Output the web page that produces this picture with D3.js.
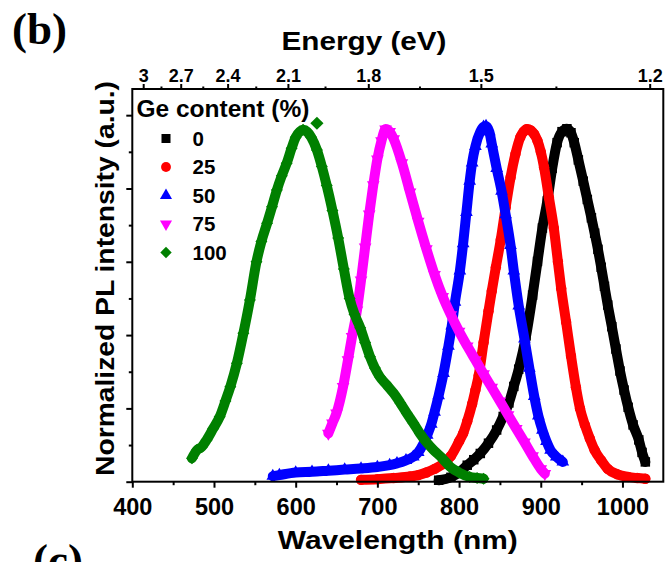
<!DOCTYPE html>
<html>
<head>
<meta charset="utf-8">
<script src="https://cdn.jsdelivr.net/npm/d3@7"></script>
<style>
  html, body { margin: 0; padding: 0; background: #ffffff; }
  svg { display: block; font-family: "Liberation Sans", Arial, sans-serif; font-weight: bold; }
</style>
</head>
<body>
<script>
// Photoluminescence spectra of the alloy series, normalized intensity vs wavelength.

const seriesLabels = ["0", "25", "50", "75", "100"];
const seriesColors = ["#000000", "#ff0000", "#0000ff", "#ff00ff", "#008000"];

// Ge 0 %
const ge0Wavelength = [775, 790, 800, 810, 818, 826, 836, 846, 854, 861, 867, 873, 882, 890, 896, 902, 908, 914, 920, 926, 932, 937, 941, 946, 952, 957, 962, 966, 970, 974, 978, 982, 987, 992, 997, 1002, 1007, 1013, 1020, 1024, 1028];
const ge0Intensity = [0.004, 0.012, 0.025, 0.045, 0.06, 0.077, 0.105, 0.141, 0.178, 0.215, 0.26, 0.307, 0.398, 0.509, 0.601, 0.692, 0.766, 0.855, 0.925, 0.955, 0.963, 0.952, 0.925, 0.878, 0.82, 0.77, 0.72, 0.678, 0.634, 0.585, 0.533, 0.482, 0.423, 0.362, 0.302, 0.25, 0.203, 0.155, 0.114, 0.08, 0.054];

// Ge 25 %
const ge25Wavelength = [680, 700, 720, 740, 750, 760, 770, 780, 790, 800, 805, 810, 816, 820, 824, 830, 836, 840, 845, 851, 857, 863, 869, 875, 879, 883, 888, 892, 896, 900, 904, 910, 916, 921, 925, 931, 937, 943, 948, 954, 960, 966, 974, 982, 994, 1007, 1018, 1028];
const ge25Intensity = [0.005, 0.007, 0.01, 0.014, 0.018, 0.025, 0.035, 0.048, 0.07, 0.11, 0.132, 0.165, 0.212, 0.25, 0.29, 0.38, 0.465, 0.52, 0.585, 0.66, 0.748, 0.83, 0.894, 0.94, 0.955, 0.962, 0.958, 0.948, 0.93, 0.9, 0.858, 0.775, 0.692, 0.6, 0.527, 0.436, 0.343, 0.258, 0.2, 0.155, 0.118, 0.086, 0.058, 0.035, 0.02, 0.013, 0.01, 0.008];

// Ge 50 %
const ge50Wavelength = [572, 580, 600, 620, 640, 660, 680, 700, 715, 724, 735, 744, 750, 756, 761, 766, 770, 775, 781, 787, 791, 795, 801, 805, 809, 813, 816, 820, 826, 830, 833, 837, 840, 846, 852, 857, 863, 867, 873, 880, 886, 892, 897, 902, 907, 912, 919, 927];
const ge50Intensity = [0.015, 0.018, 0.025, 0.027, 0.03, 0.033, 0.036, 0.04, 0.045, 0.05, 0.058, 0.068, 0.08, 0.102, 0.127, 0.157, 0.19, 0.235, 0.296, 0.37, 0.425, 0.49, 0.575, 0.65, 0.735, 0.82, 0.87, 0.915, 0.955, 0.968, 0.97, 0.955, 0.922, 0.855, 0.793, 0.729, 0.645, 0.575, 0.48, 0.39, 0.31, 0.233, 0.18, 0.141, 0.11, 0.086, 0.068, 0.054];

// Ge 75 %
const ge75Wavelength = [640, 645, 650, 658, 664, 669, 675, 680, 685, 690, 695, 700, 705, 710, 715, 720, 730, 740, 750, 760, 770, 780, 790, 800, 810, 820, 830, 840, 850, 860, 870, 880, 890, 900, 905];
const ge75Intensity = [0.132, 0.16, 0.187, 0.259, 0.332, 0.396, 0.468, 0.55, 0.64, 0.73, 0.81, 0.88, 0.93, 0.962, 0.955, 0.935, 0.87, 0.79, 0.71, 0.635, 0.565, 0.505, 0.455, 0.41, 0.37, 0.332, 0.294, 0.257, 0.22, 0.182, 0.145, 0.108, 0.07, 0.035, 0.022];

// Ge 100 %
const ge100Wavelength = [473, 479, 485, 491, 499, 507, 514, 520, 528, 536, 544, 552, 558, 565, 571, 577, 583, 589, 595, 600, 605, 609, 614, 619, 626, 632, 638, 645, 652, 659, 666, 672, 679, 685, 691, 697, 703, 711, 720, 728, 736, 744, 752, 760, 769, 779, 789, 800, 813, 822, 830];
const ge100Intensity = [0.064, 0.086, 0.095, 0.114, 0.145, 0.177, 0.22, 0.259, 0.323, 0.405, 0.496, 0.6, 0.655, 0.705, 0.75, 0.796, 0.835, 0.869, 0.91, 0.94, 0.955, 0.96, 0.955, 0.94, 0.905, 0.86, 0.808, 0.74, 0.665, 0.58, 0.5, 0.457, 0.42, 0.38, 0.341, 0.31, 0.286, 0.265, 0.241, 0.215, 0.187, 0.16, 0.132, 0.108, 0.086, 0.065, 0.041, 0.025, 0.013, 0.01, 0.008];
// stray point above the 100 % peak
const ge100StrayWavelength = [626];
const ge100StrayIntensity = [0.978];

// Axis ticks
const wavelengthTicks = [400, 500, 600, 700, 800, 900, 1000];
const wavelengthMinorTicks = [450, 550, 650, 750, 850, 950];
const energyTicks = [3, 2.7, 2.4, 2.1, 1.8, 1.5, 1.2];
const energyTickLabels = ["3", "2.7", "2.4", "2.1", "1.8", "1.5", "1.2"];
const energyMinorTicks = [2.85, 2.55, 2.25, 1.95, 1.65, 1.35];
const intensityTicks = [0, 0.2, 0.4, 0.6, 0.8, 1.0];
const intensityMinorTicks = [0.1, 0.3, 0.5, 0.7, 0.9];

const HC = 1240; // eV·nm

const W = 668, H = 562;
const frame = { left: 132.3, right: 663.3, top: 89, bottom: 481.7 };

const x = d3.scaleLinear().domain([400, 1050]).range([frame.left, frame.right]);
const y = d3.scaleLinear().domain([0, 1.0714]).range([frame.bottom, frame.top]);

const svg = d3.select("body").append("svg").attr("width", W).attr("height", H);

const series = [
  { label: seriesLabels[0], color: seriesColors[0], shape: "square",   wl: ge0Wavelength,   v: ge0Intensity },
  { label: seriesLabels[1], color: seriesColors[1], shape: "circle",   wl: ge25Wavelength,  v: ge25Intensity },
  { label: seriesLabels[2], color: seriesColors[2], shape: "triangle", wl: ge50Wavelength,  v: ge50Intensity },
  { label: seriesLabels[3], color: seriesColors[3], shape: "down",     wl: ge75Wavelength,  v: ge75Intensity },
  { label: seriesLabels[4], color: seriesColors[4], shape: "diamond",  wl: ge100Wavelength, v: ge100Intensity,
    strayWl: ge100StrayWavelength, strayV: ge100StrayIntensity }
];

function markerPath(shape, scale) {
  const s = scale || 1;
  switch (shape) {
    case "square":   return d3.symbol(d3.symbolSquare, 90 * s * s)();
    case "circle":   return d3.symbol(d3.symbolCircle, 85 * s * s)();
    case "triangle": return d3.symbol(d3.symbolTriangle, 70 * s * s)();
    case "down":     return d3.symbol(d3.symbolTriangle, 70 * s * s)();
    case "diamond":  return d3.symbol(d3.symbolSquare, 72 * s * s)();
  }
}
function markerRotate(shape) {
  if (shape === "down") return 180;
  if (shape === "diamond") return 45;
  return 0;
}

const plot = svg.append("g");
const line = d3.line().curve(d3.curveMonotoneX);

series.forEach(s => {
  const pts = s.wl.map((w, i) => [x(w), y(s.v[i])]);
  const g = plot.append("g");
  g.append("path")
    .attr("d", line(pts))
    .attr("fill", "none")
    .attr("stroke", s.color)
    .attr("stroke-width", 10)
    .attr("stroke-linejoin", "round")
    .attr("stroke-linecap", "round");
  g.selectAll("path.mk")
    .data(pts)
    .join("path")
    .attr("class", "mk")
    .attr("d", markerPath(s.shape))
    .attr("transform", d => `translate(${d[0]},${d[1]}) rotate(${markerRotate(s.shape)})`)
    .attr("fill", s.color);
  if (s.strayWl) {
    g.selectAll("path.stray")
      .data(s.strayWl.map((w, i) => [x(w), y(s.strayV[i])]))
      .join("path")
      .attr("class", "stray")
      .attr("d", markerPath(s.shape, 1.1))
      .attr("transform", d => `translate(${d[0]},${d[1]}) rotate(${markerRotate(s.shape)})`)
      .attr("fill", s.color);
  }
});

// Frame
svg.append("rect")
  .attr("x", frame.left).attr("y", frame.top)
  .attr("width", frame.right - frame.left).attr("height", frame.bottom - frame.top)
  .attr("fill", "none").attr("stroke", "#000").attr("stroke-width", 2);

function styleAxis(g) {
  g.select(".domain").remove();
  g.selectAll(".tick line").attr("stroke", "#000").attr("stroke-width", 2);
}

// Bottom: wavelength
const bottomAxis = svg.append("g")
  .attr("transform", `translate(0,${frame.bottom})`)
  .call(d3.axisBottom(x).tickValues(wavelengthTicks).tickSize(6).tickFormat(d3.format("d")))
  .call(styleAxis);
bottomAxis.selectAll("text")
  .attr("y", 33.5).attr("dy", null)
  .attr("fill", "#000")
  .style("font-size", "23.5px").style("font-weight", "bold")
  .style("font-family", "'Liberation Sans', Arial, sans-serif");
svg.append("g")
  .attr("transform", `translate(0,${frame.bottom})`)
  .call(d3.axisBottom(x).tickValues(wavelengthMinorTicks).tickSize(3.5).tickFormat(""))
  .call(styleAxis);

// Top: photon energy
const topAxis = svg.append("g")
  .attr("transform", `translate(0,${frame.top})`)
  .call(d3.axisTop(x).tickValues(energyTicks.map(e => HC / e)).tickSize(5)
        .tickFormat((d, i) => energyTickLabels[i]))
  .call(styleAxis);
topAxis.selectAll("text")
  .attr("y", -7.5).attr("dy", null)
  .attr("fill", "#000")
  .style("font-size", "18px").style("font-weight", "bold")
  .style("font-family", "'Liberation Sans', Arial, sans-serif");
svg.append("g")
  .attr("transform", `translate(0,${frame.top})`)
  .call(d3.axisTop(x).tickValues(energyMinorTicks.map(e => HC / e)).tickSize(2.5).tickFormat(""))
  .call(styleAxis);

// Left: intensity (no numbers)
svg.append("g")
  .attr("transform", `translate(${frame.left},0)`)
  .call(d3.axisLeft(y).tickValues(intensityTicks).tickSize(6).tickFormat(""))
  .call(styleAxis);
svg.append("g")
  .attr("transform", `translate(${frame.left},0)`)
  .call(d3.axisLeft(y).tickValues(intensityMinorTicks).tickSize(3.5).tickFormat(""))
  .call(styleAxis);

// Axis titles
svg.append("text")
  .attr("x", (frame.left + frame.right) / 2).attr("y", 549)
  .attr("text-anchor", "middle")
  .attr("textLength", 240).attr("lengthAdjust", "spacingAndGlyphs")
  .style("font-size", "25px")
  .text("Wavelength (nm)");

svg.append("text")
  .attr("x", 364).attr("y", 50)
  .attr("text-anchor", "middle")
  .attr("textLength", 165).attr("lengthAdjust", "spacingAndGlyphs")
  .style("font-size", "25.5px")
  .text("Energy (eV)");

svg.append("text")
  .attr("transform", `translate(114,${(80 + 477) / 2}) rotate(-90)`)
  .attr("text-anchor", "middle")
  .attr("textLength", 395).attr("lengthAdjust", "spacingAndGlyphs")
  .style("font-size", "25px")
  .text("Normalized PL intensity (a.u.)");

// Legend
const legend = svg.append("g");
legend.append("text")
  .attr("x", 136.5).attr("y", 116.5)
  .style("font-size", "24.5px")
  .text("Ge content (%)");
const rowY = d3.scalePoint().domain(seriesLabels).range([138.5, 252.5]);
series.forEach(s => {
  legend.append("path")
    .attr("d", markerPath(s.shape, 0.95))
    .attr("transform", `translate(166,${rowY(s.label)}) rotate(${markerRotate(s.shape)})`)
    .attr("fill", s.color);
  legend.append("text")
    .attr("x", 192.5).attr("y", rowY(s.label) + 7.3)
    .style("font-size", "20.5px")
    .text(s.label);
});

// Panel letters
svg.append("text")
  .attr("x", 12).attr("y", 44)
  .style("font-family", "'Liberation Serif', 'Times New Roman', serif")
  .style("font-size", "45px")
  .text("(b)");
svg.append("text")
  .attr("x", 33).attr("y", 575)
  .style("font-family", "'Liberation Serif', 'Times New Roman', serif")
  .style("font-size", "45px")
  .text("(c)");
</script>
</body>
</html>
